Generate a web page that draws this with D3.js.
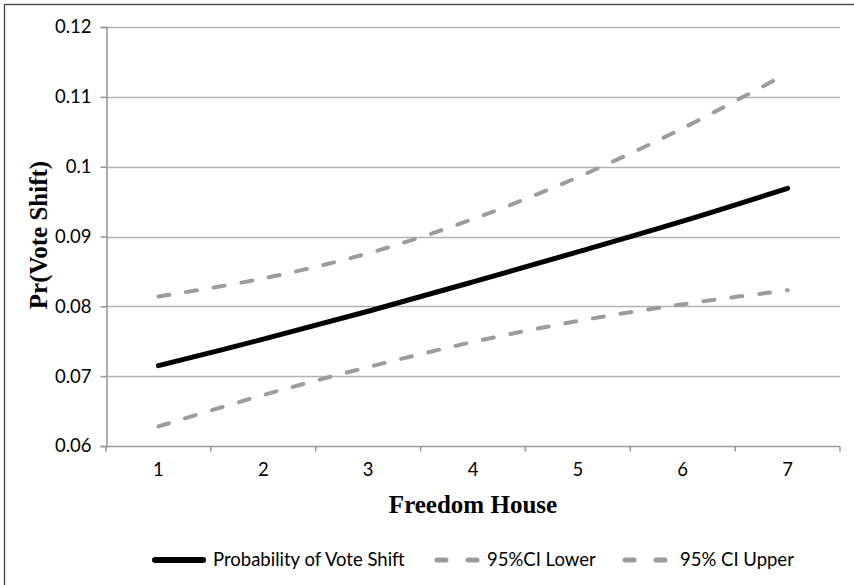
<!DOCTYPE html>
<html>
<head>
<meta charset="utf-8">
<script src="https://cdn.jsdelivr.net/npm/d3@7"></script>
<style>
  body { margin: 0; background: #fff; }
  svg text { font-family: Lato, "Open Sans", sans-serif; }
</style>
</head>
<body>
<div id="main"></div>
<script>
var categories = [1, 2, 3, 4, 5, 6, 7];
var probVoteShift = [0.0715, 0.0753, 0.0793, 0.0835, 0.0878, 0.0922, 0.0969];
var ciLower = [0.0628, 0.0673, 0.0713, 0.0749, 0.0779, 0.0803, 0.0823];
var ciUpper = [0.0814, 0.0840, 0.0876, 0.0925, 0.0985, 0.1055, 0.1134];
var yTicks = [0.06, 0.07, 0.08, 0.09, 0.1, 0.11, 0.12];
var seriesNames = ["Probability of Vote Shift", "95%CI Lower", "95% CI Upper"];

var svg = d3.select("#main").append("svg")
  .attr("width", 854)
  .attr("height", 585);

svg.append("rect")
  .attr("x", 4.5).attr("y", 4.5)
  .attr("width", 900).attr("height", 700)
  .attr("fill", "#fff")
  .attr("stroke", "#404040")
  .attr("stroke-width", 1.3);//chart border

var x = d3.scaleBand().domain(categories).range([106, 840]);
var y = d3.scaleLinear().domain([0.06, 0.12]).range([446, 27]);

// gridlines
svg.append("g").selectAll("line").data(yTicks.slice(1)).enter().append("line")
  .attr("x1", 106).attr("x2", 840)
  .attr("y1", function(d) { return Math.round(y(d)) + 0.5; })
  .attr("y2", function(d) { return Math.round(y(d)) + 0.5; })
  .attr("stroke", "#b3b3b3")
  .attr("stroke-width", 1.3);

// y axis
var yAxis = d3.axisLeft(y).tickValues(yTicks).tickSize(6).tickPadding(9)
  .tickFormat(function(d) { return String(+d.toFixed(2)); });
var gy = svg.append("g").attr("transform", "translate(106.5,0)").call(yAxis);
gy.select(".domain").attr("stroke", "#9a9a9a").attr("stroke-width", 1.6);
gy.selectAll(".tick line").attr("stroke", "#9a9a9a").attr("stroke-width", 1.6);
gy.selectAll(".tick text").attr("font-size", 18.5).attr("fill", "#000")
  .style("font-family", "Lato, 'Open Sans', sans-serif");

// x axis: ticks between categories like Excel
var gx = svg.append("g").attr("transform", "translate(0,446.5)");
gx.append("line").attr("x1", 106).attr("x2", 840).attr("y1", 0).attr("y2", 0)
  .attr("stroke", "#9a9a9a").attr("stroke-width", 1.6);
var bounds = categories.map(function(c) { return x(c); }).concat([x(7) + x.bandwidth()]);
gx.selectAll(".xt").data(bounds).enter().append("line")
  .attr("x1", function(d) { return d; }).attr("x2", function(d) { return d; })
  .attr("y1", 0).attr("y2", 5)
  .attr("stroke", "#9a9a9a").attr("stroke-width", 1.6);
gx.selectAll("text").data(categories).enter().append("text")
  .attr("x", function(d) { return x(d) + x.bandwidth() / 2; })
  .attr("y", 29)
  .attr("text-anchor", "middle")
  .attr("font-size", 18.5)
  .text(function(d) { return d; });

// axis titles
svg.append("text")
  .attr("transform", "translate(47,235) rotate(-90)")
  .attr("text-anchor", "middle")
  .style("font-family", "'Liberation Serif', 'Times New Roman', serif")
  .attr("font-weight", "bold")
  .attr("font-size", 25)
  .text("Pr(Vote Shift)");
svg.append("text")
  .attr("x", 473).attr("y", 513)
  .attr("text-anchor", "middle")
  .style("font-family", "'Liberation Serif', 'Times New Roman', serif")
  .attr("font-weight", "bold")
  .attr("font-size", 25)
  .text("Freedom House");

var line = d3.line()
  .x(function(d, i) { return x(categories[i]) + x.bandwidth() / 2; })
  .y(function(d) { return y(d); })
  .curve(d3.curveCatmullRom.alpha(0.5));

var styles = [
  { data: probVoteShift, color: "#000", width: 5, dash: null },
  { data: ciLower, color: "#9c9c9c", width: 4, dash: "11,17" },
  { data: ciUpper, color: "#9c9c9c", width: 4, dash: "11,17" }
];
styles.forEach(function(s) {
  svg.append("path")
    .attr("d", line(s.data))
    .attr("fill", "none")
    .attr("stroke", s.color)
    .attr("stroke-width", s.width)
    .attr("stroke-linecap", "round")
    .attr("stroke-dasharray", s.dash);
});//draw lines

// legend
var legendX = [155, 437, 625];
var legend = svg.selectAll(".legend").data(seriesNames).enter().append("g")
  .attr("class", "legend")
  .attr("transform", function(d, i) { return "translate(" + legendX[i] + ",560)"; });
legend.append("line")
  .attr("x1", 0).attr("x2", function(d, i) { return i === 0 ? 48 : 40; })
  .attr("y1", 0).attr("y2", 0)
  .attr("stroke", function(d, i) { return styles[i].color; })
  .attr("stroke-width", function(d, i) { return styles[i].width + 1; })
  .attr("stroke-linecap", "round")
  .attr("stroke-dasharray", function(d, i) { return i === 0 ? null : "9,22"; });
legend.append("text")
  .attr("x", function(d, i) { return i === 0 ? 58 : (i === 1 ? 50 : 55); })
  .attr("y", 0)
  .attr("dy", ".35em")
  .attr("font-size", 18.5)
  .text(function(d) { return d; });
</script>
</body>
</html>
